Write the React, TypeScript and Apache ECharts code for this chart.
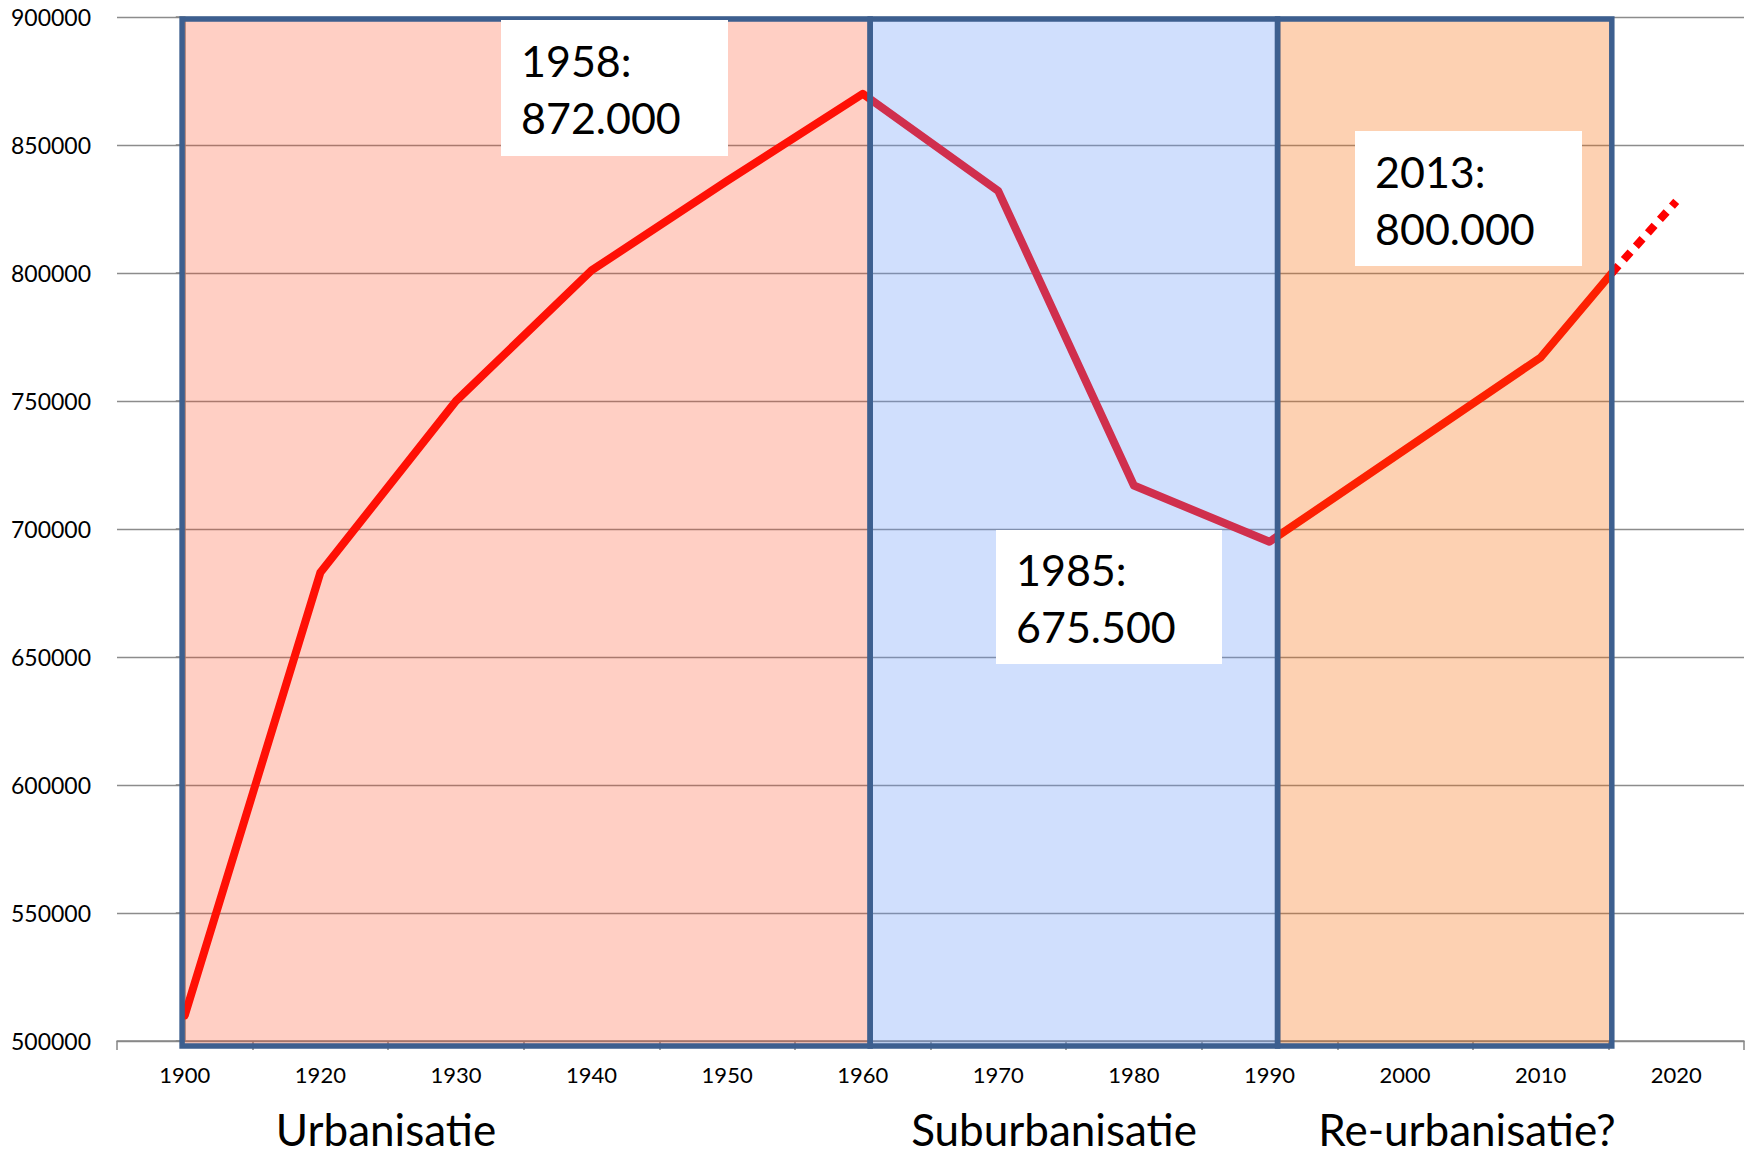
import React, { useEffect, useRef } from "react";
import * as echarts from "echarts";

// ---- data ----
const years = ["1900", "1920", "1930", "1940", "1950", "1960", "1970", "1980", "1990", "2000", "2010", "2020"];
const population = [510000, 683000, 750000, 801000, 836000, 870000, 832000, 717000, 695000, 731000, 767000];
// 2013 observation (sits at the right edge of the last period box, in category-index units)
const pos2013 = 10.525;
const value2013 = 800000;
const projection2020 = 828000;
const yMin = 500000;
const yMax = 900000;
const yStep = 50000;
// period boxes, in category-index units
const periodStart = [-0.02, 5.055, 8.06];
const periodEnd = [5.055, 8.06, pos2013];
const periodNames = ["Urbanisatie", "Suburbanisatie", "Re-urbanisatie?"];
const callouts = ["1958:\n872.000", "1985:\n675.500", "2013:\n800.000"];

const FONT = "Lato, 'Open Sans', sans-serif";

export default function App() {
  const ref = useRef<HTMLDivElement>(null);
  useEffect(() => {
    document.body.style.margin = "0";
    const chart = echarts.init(ref.current!, null, { renderer: "svg" });
    const fills = ["rgba(255,64,20,0.25)", "rgba(102,153,248,0.31)", "rgba(248,105,3,0.306)"];
    const solid = population.map((v, i) => [i, v]).concat([[pos2013, value2013]]);
    const dashed = [[pos2013, value2013], [years.length - 1, projection2020]];
    const boxes = periodStart.map((s, i) => [s, periodEnd[i], i]);

    const calloutRects = [
      { x: 501, y: 20, w: 227, h: 136 },
      { x: 996, y: 530, w: 226, h: 134 },
      { x: 1355, y: 131, w: 227, h: 135 },
    ];
    const labelX = [386, 1054, 1467];

    const option: any = {
      animation: false,
      backgroundColor: "#ffffff",
      grid: { left: 117, right: 12, top: 17, bottom: 113, containLabel: false },
      xAxis: [
        {
          type: "category",
          data: years,
          boundaryGap: true,
          axisLine: { show: true, lineStyle: { color: "#868686", width: 1.5 } },
          axisTick: { show: true, length: 9, alignWithLabel: false, lineStyle: { color: "#868686", width: 1.5 } },
          axisLabel: { color: "#000", fontSize: 22, fontFamily: FONT, margin: 22 },
          splitLine: { show: false },
        },
        { type: "value", min: -0.5, max: years.length - 0.5, show: false },
      ],
      yAxis: {
        type: "value",
        min: yMin,
        max: yMax,
        interval: yStep,
        axisLine: { show: true, lineStyle: { color: "#868686", width: 1.5 } },
        axisTick: { show: true, length: 9, lineStyle: { color: "#868686", width: 1.5 } },
        axisLabel: {
          color: "#000",
          fontSize: 23,
          fontFamily: FONT,
          margin: 26,
          formatter: (v: number) => String(v),
        },
        splitLine: { show: true, lineStyle: { color: "#8c8c8c", width: 1.3 } },
      },
      series: [
        {
          type: "line",
          xAxisIndex: 1,
          data: solid,
          showSymbol: false,
          symbol: "none",
          z: 3,
          lineStyle: { color: "#ff0000", width: 8, cap: "round", join: "round" },
        },
        {
          type: "line",
          xAxisIndex: 1,
          data: dashed,
          showSymbol: false,
          symbol: "none",
          z: 3,
          lineStyle: { color: "#ff0000", width: 8, type: [10, 8], cap: "butt" },
        },
        {
          type: "custom",
          xAxisIndex: 1,
          z: 5,
          clip: false,
          data: boxes,
          renderItem: (params: any, api: any) => {
            const s = api.value(0);
            const e = api.value(1);
            const idx = api.value(2);
            const p1 = api.coord([s, yMax]);
            const p2 = api.coord([e, yMin]);
            return {
              type: "rect",
              shape: { x: p1[0], y: p1[1] + 2, width: p2[0] - p1[0], height: p2[1] - p1[1] + 3 },
              style: { fill: fills[idx], stroke: "#3d5f8f", lineWidth: 5.5 },
            };
          },
        },
      ],
      graphic: [
        ...callouts.map((t, i) => ({
          type: "group",
          x: calloutRects[i].x,
          y: calloutRects[i].y,
          z: 100,
          zlevel: 1,
          children: [
            {
              type: "rect",
              z: 100,
              zlevel: 1,
              shape: { x: 0, y: 0, width: calloutRects[i].w, height: calloutRects[i].h },
              style: { fill: "#ffffff" },
            },
            {
              type: "text",
              z: 101,
              zlevel: 1,
              x: 20,
              y: calloutRects[i].h / 2 + 1,
              style: {
                text: t,
                fill: "#000",
                fontSize: 43,
                fontFamily: FONT,
                lineHeight: 57,
                verticalAlign: "middle",
                align: "left",
              },
            },
          ],
        })),
        ...periodNames.map((n, i) => ({
          type: "text",
          x: labelX[i],
          y: 1129,
          z: 100,
          style: {
            text: n,
            fill: "#000",
            fontSize: 44,
            fontFamily: FONT,
            align: "center",
            verticalAlign: "middle",
          },
        })),
      ],
    };
    chart.setOption(option);
    return () => chart.dispose();
  }, []);
  return <div ref={ref} style={{ position: "absolute", left: 0, top: 0, width: 1756, height: 1154 }} />;
}
